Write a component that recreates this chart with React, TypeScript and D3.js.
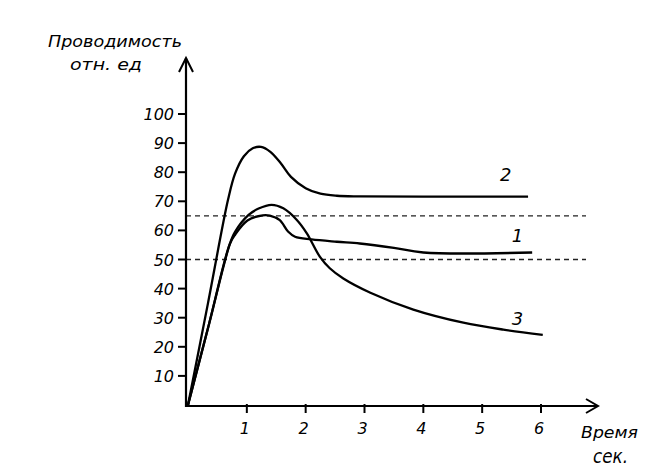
import React, { useEffect, useRef } from 'react';
import * as d3 from 'd3';

type Pt = [number, number];

// curve 1: the middle plateau
const series1: Pt[] = [
  [0, 0], [0.36, 28], [0.71, 55.3], [0.8, 58.5], [1.01, 63.4], [1.27, 65.2], [1.39, 65.1],
  [1.56, 63.5], [1.7, 59.6], [1.82, 57.8], [2.1, 56.9], [2.53, 56.1], [2.92, 55.5], [3.5, 54],
  [4, 52.4], [5.85, 52.4],
];
// curve 2: the high peak
const series2: Pt[] = [
  [0, 0], [0.34, 35], [0.68, 70.5], [0.8, 79.5], [0.95, 85.5], [1.1, 88.2], [1.24, 88.7], [1.4, 87],
  [1.58, 83], [1.75, 78.4], [2.0, 74.5], [2.25, 72.6], [2.53, 71.9], [2.93, 71.7], [4, 71.6], [5.78, 71.6],
];
// curve 3: peak then decay
const series3: Pt[] = [
  [0, 0], [0.36, 28], [0.71, 55.3], [0.8, 59.5], [1.03, 65.3], [1.2, 67.5], [1.42, 68.8], [1.62, 67.6],
  [1.85, 63.6], [2.02, 59], [2.24, 51], [2.41, 47], [2.64, 43.5], [3.1, 38.6], [3.83, 32.8],
  [4.68, 28.3], [5.36, 25.9], [6.03, 24.1],
];

const seriesList = [series1, series2, series3];
const seriesLabels = [
  { name: '1', t: 5.6, v: 56 },
  { name: '2', t: 5.4, v: 77 },
  { name: '3', t: 5.6, v: 27.5 },
];

const thresholds = [65, 50];
const xTicks = [1, 2, 3, 4, 5, 6];
const yTicks = [10, 20, 30, 40, 50, 60, 70, 80, 90, 100];

const App: React.FC = () => {
  const svgRef = useRef<SVGSVGElement>(null);

  useEffect(() => {
    if (!svgRef.current) return;
    const svg = d3.select(svgRef.current);
    svg.selectAll('*').remove();

    const width = 666;
    const height = 469;
    const font = "'DejaVu Sans', sans-serif";

    const x = d3.scaleLinear().domain([0, 6]).range([188, 541]);
    const y = d3.scaleLinear().domain([0, 100]).range([405, 114]);

    svg.attr('width', width).attr('height', height);
    svg.append('rect').attr('width', width).attr('height', height).attr('fill', '#fff');

    const axisX = 186;
    const axisY = 406;

    // dashed threshold lines
    svg.selectAll('.thr')
      .data(thresholds)
      .enter()
      .append('line')
      .attr('x1', axisX)
      .attr('x2', 586)
      .attr('y1', d => y(d))
      .attr('y2', d => y(d))
      .attr('stroke', '#222')
      .attr('stroke-width', 1.3)
      .attr('stroke-dasharray', '5 4');

    // axes
    svg.append('line')
      .attr('x1', axisX).attr('y1', axisY + 1).attr('x2', axisX).attr('y2', 58)
      .attr('stroke', '#000').attr('stroke-width', 2.2);
    svg.append('path')
      .attr('d', `M${axisX - 7},72 L${axisX},58 L${axisX + 7},72`)
      .attr('fill', 'none').attr('stroke', '#000').attr('stroke-width', 2);
    svg.append('line')
      .attr('x1', axisX - 1).attr('y1', axisY).attr('x2', 598).attr('y2', axisY)
      .attr('stroke', '#000').attr('stroke-width', 2.2);
    svg.append('path')
      .attr('d', `M586,${axisY - 7} L598,${axisY} L586,${axisY + 7}`)
      .attr('fill', 'none').attr('stroke', '#000').attr('stroke-width', 2);

    // y ticks
    const yg = svg.append('g');
    yg.selectAll('line')
      .data(yTicks)
      .enter()
      .append('line')
      .attr('x1', axisX - 8).attr('x2', axisX)
      .attr('y1', d => y(d)).attr('y2', d => y(d))
      .attr('stroke', '#000').attr('stroke-width', 2);
    yg.selectAll('text')
      .data(yTicks)
      .enter()
      .append('text')
      .attr('x', axisX - 12)
      .attr('y', d => y(d) + 6)
      .attr('text-anchor', 'end')
      .style('font-family', font)
      .style('font-style', 'italic')
      .style('font-size', '16px')
      .text(d => d);

    // x ticks
    const xg = svg.append('g');
    xg.selectAll('line')
      .data(xTicks)
      .enter()
      .append('line')
      .attr('x1', d => x(d)).attr('x2', d => x(d))
      .attr('y1', axisY - 2).attr('y2', axisY + 7)
      .attr('stroke', '#000').attr('stroke-width', 2);
    xg.selectAll('text')
      .data(xTicks)
      .enter()
      .append('text')
      .attr('x', d => x(d) - 2)
      .attr('y', 434)
      .attr('text-anchor', 'middle')
      .style('font-family', font)
      .style('font-style', 'italic')
      .style('font-size', '16px')
      .text(d => d);

    // curves
    const line = d3.line<Pt>()
      .x(d => x(d[0]))
      .y(d => y(d[1]))
      .curve(d3.curveCatmullRom.alpha(0.5));

    svg.selectAll('.curve')
      .data(seriesList)
      .enter()
      .append('path')
      .attr('d', d => line(d) ?? '')
      .attr('fill', 'none')
      .attr('stroke', '#000')
      .attr('stroke-width', 2.3)
      .attr('stroke-linejoin', 'round');

    svg.selectAll('.lbl')
      .data(seriesLabels)
      .enter()
      .append('text')
      .attr('x', d => x(d.t))
      .attr('y', d => y(d.v))
      .attr('text-anchor', 'middle')
      .style('font-family', font)
      .style('font-style', 'italic')
      .style('font-size', '18px')
      .text(d => d.name);

    // axis titles
    const title = (txt: string, tx: number, ty: number, len: number, size: number) => {
      svg.append('text')
        .attr('x', tx)
        .attr('y', ty)
        .attr('textLength', len)
        .attr('lengthAdjust', 'spacingAndGlyphs')
        .style('font-family', font)
        .style('font-style', 'italic')
        .style('font-size', `${size}px`)
        .text(txt);
    };
    title('Проводимость', 48, 47, 134, 15);
    title('отн. ед', 70, 70, 72, 15);
    title('Время', 581, 438, 57, 15);
    title('сек.', 593, 463, 35, 19);
  }, []);

  return (
    <svg ref={svgRef} style={{ position: 'absolute', left: 0, top: 0, display: 'block' }} />
  );
};

export default App;
